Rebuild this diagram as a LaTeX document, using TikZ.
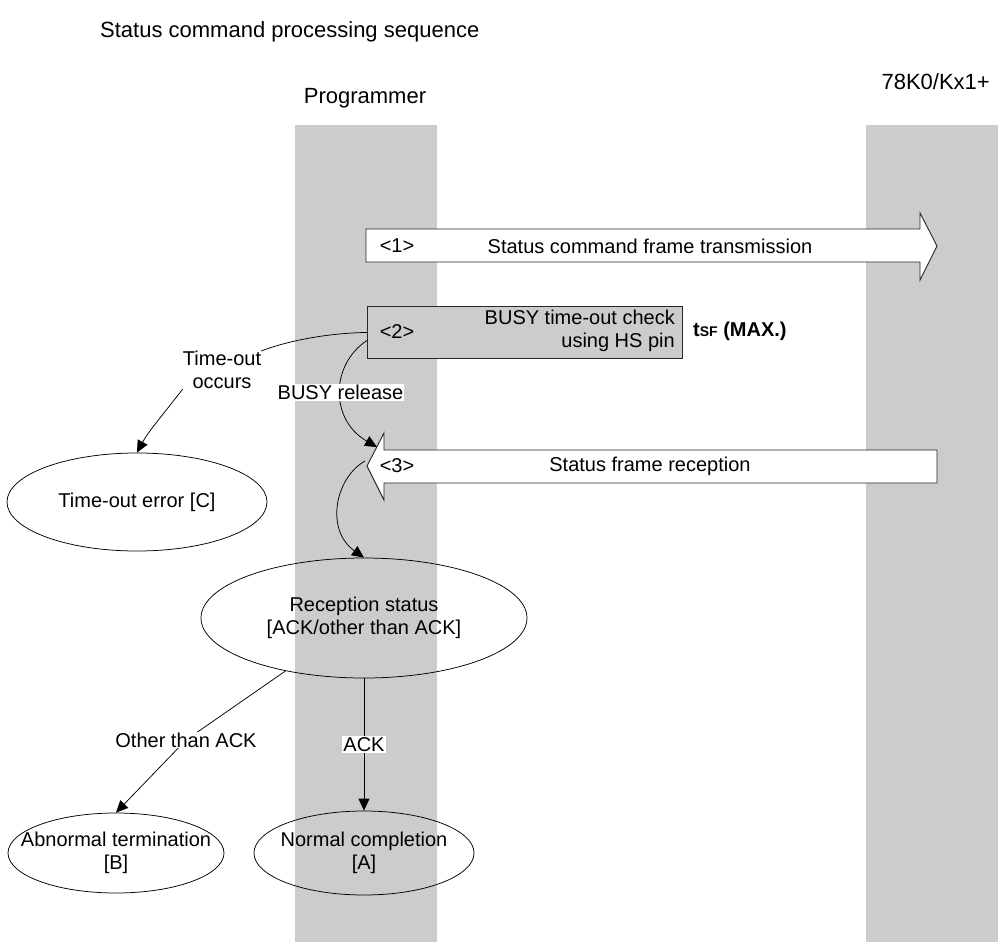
\documentclass[tikz,border=0pt]{standalone}
\usepackage{fontspec}
\setmainfont{Liberation Sans}
\usetikzlibrary{arrows.meta,shapes.geometric}
\definecolor{lanegray}{RGB}{204,204,204}
\begin{document}
\begin{tikzpicture}[x=1pt,y=-1pt,
  txt/.style={font=\fontsize{20}{23}\selectfont, inner sep=0pt, align=center},
  hdr/.style={font=\fontsize{22}{25}\selectfont, inner sep=0pt},
  ell/.style={ellipse, draw, line width=0.75pt, inner sep=0pt},
  bigarrow/.style={draw=black!85, line width=0.9pt, fill=white},
  conn/.style={line width=0.75pt},
  arr/.style={conn, -{Triangle[length=12pt,width=11pt]}},
]
\useasboundingbox (0,0) rectangle (998,942);
\fill[lanegray] (295,125) rectangle (437,942);
\fill[lanegray] (866,125) rectangle (998,942);

\node[hdr, anchor=west] (title) at (100,32) {Status command processing sequence};
\node[hdr] (prog) at (365,98) {Programmer};
\node[hdr, anchor=east] (dev) at (990,82) {78K0/Kx1+};

% <1>
\draw[bigarrow] (366,229) -- (920,229) -- (920,213) -- (937,246) -- (920,280) -- (920,262) -- (366,262) -- cycle;
\node[txt] (n1) at (397,246) {<1>};
\node[txt] (a1) at (650,246) {Status command frame transmission};

% <2>
\node[draw=black!85, line width=0.9pt, fill=lanegray, minimum width=315pt, minimum height=52pt, inner sep=0pt, anchor=north west] (b2) at (367,306) {};
\node[txt] (n2) at (397,332) {<2>};
\node[txt, align=right, anchor=east] (b2t) at (675,331) {BUSY time-out check\\using HS pin};
\node[font=\fontsize{20}{23}\selectfont\bfseries, inner sep=0pt, anchor=west] (tsf) at (693,331) {t{\fontsize{14}{14}\selectfont SF} (MAX.)};

% <3>
\draw[bigarrow] (937,450) -- (384,450) -- (384,433) -- (367,466) -- (384,500) -- (384,483) -- (937,483) -- cycle;
\coordinate (a3in) at (377,447);
\coordinate (a3out) at (365,461);
\node[txt] (n3) at (397,466) {<3>};
\node[txt] (a3) at (650,466) {Status frame reception};

% ellipses
\node[ell, minimum width=260pt, minimum height=98pt] (tmo) at (137,502) {};
\node[txt] (tmot) at (tmo) {Time-out error [C]};
\node[ell, minimum width=326pt, minimum height=120pt] (rec) at (364,618) {};
\node[txt] (rect) at (rec) {Reception status\\{[ACK/other than ACK]}};
\node[ell, minimum width=216pt, minimum height=80pt] (abn) at (116,853) {};
\node[txt] (abnt) at (abn) {Abnormal termination\\{[B]}};
\node[ell, minimum width=220pt, minimum height=84pt] (nor) at (364,853) {};
\node[txt] (nort) at (nor) {Normal completion\\{[A]}};

% connectors
\node[txt] (to) at (222,370) {Time-out\\occurs};
\draw[conn] (b2.west) .. controls (330,333) and (290,340) .. (to.north east);
\draw[arr] (to.south west) .. controls (165,412) and (148,432) .. (tmo.north);

\draw[arr] ([yshift=-8pt]b2.west) .. controls (330,365) and (330,420) .. (a3in)
  node[pos=0.5, txt, fill=white, inner sep=1pt] (busy) {BUSY release};

\draw[arr] (a3out) .. controls (335,478) and (325,530) .. (rec.north);

\coordinate (othc) at (186,740);
\draw[conn] (rec.214) -- (othc);
\draw[arr] (othc) -- (abn.north);
\node[txt, fill=white, inner sep=1pt] (oth) at (othc) {Other than ACK};

\draw[arr] (rec.south) -- (nor.north) node[midway, txt, fill=white, inner sep=1pt] (ack) {ACK};
\end{tikzpicture}
\end{document}
